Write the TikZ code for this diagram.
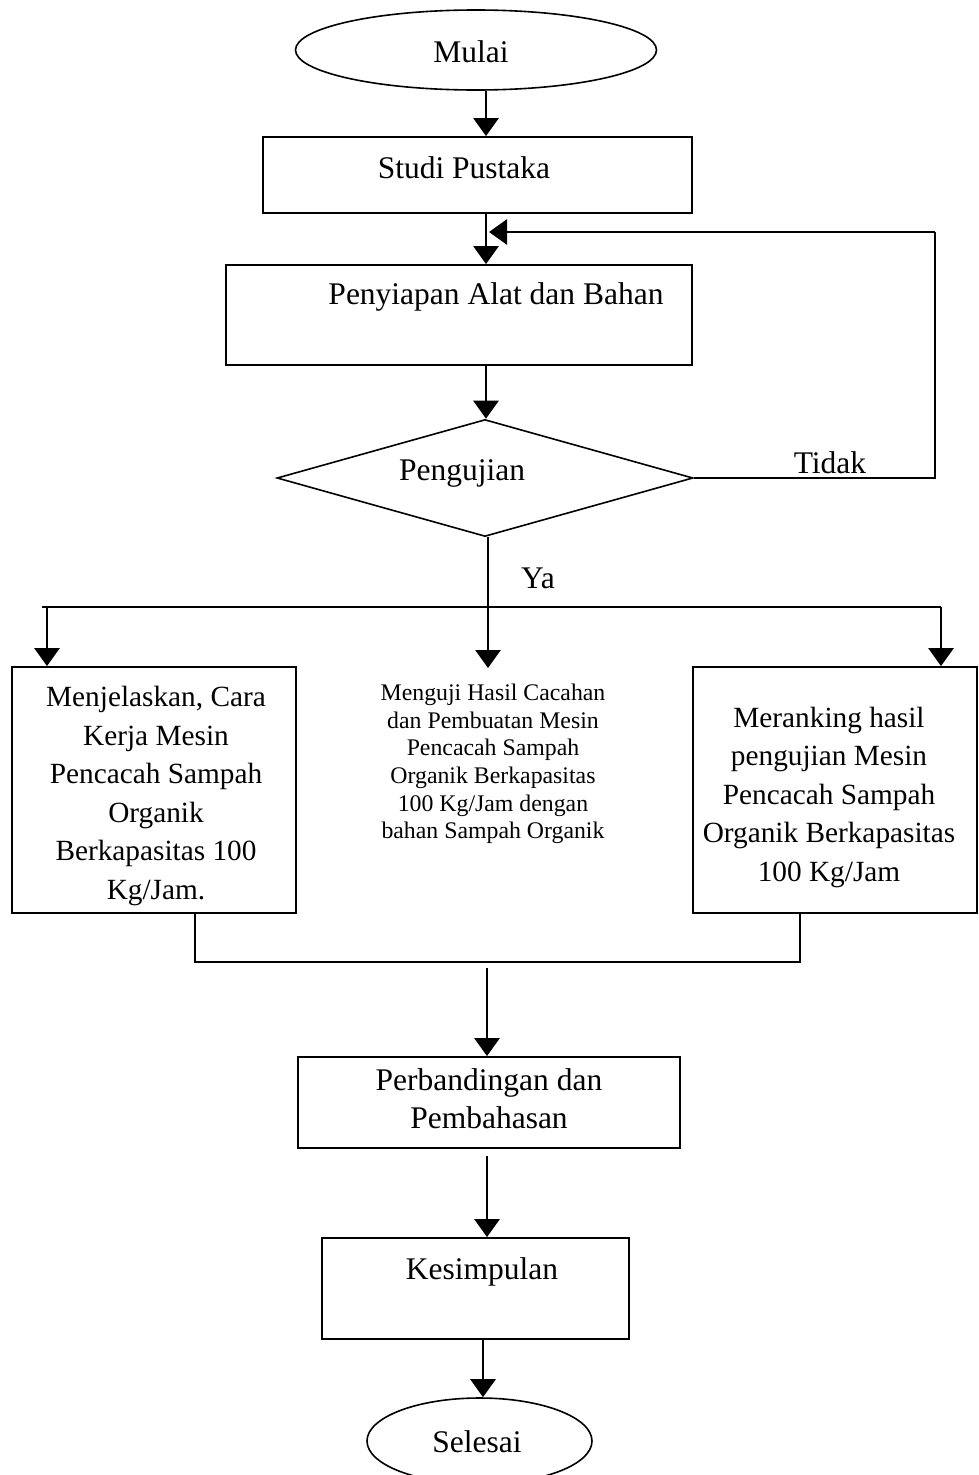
\documentclass[tikz,border=0pt]{standalone}
\usepackage{fontspec}
\setmainfont{Liberation Serif}
\usetikzlibrary{shapes.geometric,arrows.meta}
\begin{document}
\begin{tikzpicture}[x=1pt,y=-1pt,
  box/.style={draw,line width=1.8pt,rectangle,inner sep=0pt},
  oval/.style={draw,line width=1.6pt,ellipse,inner sep=0pt},
  big/.style={font=\fontsize{31.5}{38}\selectfont,inner sep=0pt,align=center},
  mid/.style={font=\fontsize{29.3}{38.5}\selectfont,inner sep=0pt,align=center},
  small/.style={font=\fontsize{23.8}{27.6}\selectfont,inner sep=0pt,align=center},
  arr/.style={line width=2.8pt,-{Triangle[width=25pt,length=18pt]}},
  ln/.style={line width=2.4pt},
  thin/.style={line width=1.6pt}]
\useasboundingbox (0,0) rectangle (978,1475);
\fill[white] (0,0) rectangle (978,1475);

% nodes
\node[oval,minimum width=361pt,minimum height=80pt] (mulai) at (476,50) {};
\node[big] (tmulai) at (471,52) {Mulai};

\node[box,minimum width=429pt,minimum height=76pt] (studi) at (477.5,175) {};
\node[big] (tstudi) at (464,168) {Studi Pustaka};

\node[box,minimum width=466pt,minimum height=100pt] (siap) at (459,315) {};
\node[big] (tsiap) at (496,297) {Penyiapan Alat dan Bahan};

\node[draw,line width=1.6pt,diamond,inner sep=0pt,minimum width=416pt,minimum height=117pt] (uji) at (485,478) {};
\node[big] (tuji) at (462,473) {Pengujian};

\node[box,minimum width=284pt,minimum height=246pt] (kiri) at (154,790) {};
\node[mid] (tkiri) at (156,796) {Menjelaskan, Cara\\Kerja Mesin\\Pencacah Sampah\\Organik\\Berkapasitas 100\\Kg/Jam.};

\node[small] (tengah) at (493,764) {Menguji Hasil Cacahan\\dan Pembuatan Mesin\\Pencacah Sampah\\Organik Berkapasitas\\100 Kg/Jam dengan\\bahan Sampah Organik};

\node[box,minimum width=284pt,minimum height=246pt] (kanan) at (835,790) {};
\node[mid] (tkanan) at (829,797) {Meranking hasil\\pengujian Mesin\\Pencacah Sampah\\Organik Berkapasitas\\100 Kg/Jam};

\node[box,minimum width=382pt,minimum height=91pt] (banding) at (489,1102.5) {};
\node[big] (tbanding) at (489,1099) {Perbandingan dan\\Pembahasan};

\node[box,minimum width=307pt,minimum height=101pt] (simpul) at (475.5,1288.5) {};
\node[big] (tsimpul) at (482,1272) {Kesimpulan};

\node[oval,minimum width=225pt,minimum height=86pt] (selesai) at (479.5,1441) {};
\node[big] (tselesai) at (477,1442) {Selesai};

\node[big] (tidak) at (830,463) {Tidak};
\node[big] (ya) at (538,578) {Ya};

% helper coordinates
\coordinate (cx) at (486,0);
\coordinate (yx) at (488,0);
\coordinate (fbr) at (935,232);
\coordinate (fbe) at (489,232);
\coordinate (hl) at (42,607);
\coordinate (hr) at (941,607);
\coordinate (hm) at (488,607);
\coordinate (la) at (47,607);
\coordinate (ra) at (941,607);
\coordinate (jl) at (195,962);
\coordinate (jr) at (800,962);
\coordinate (jm) at (487,968);
\coordinate (bm) at (487,1156);

% connectors
\draw[arr] (mulai.south -| cx) -- (studi.north -| cx);
\draw[arr] (studi.south -| cx) -- (siap.north -| cx);
\draw[arr] (siap.south -| cx) -- (uji.north -| cx);
\draw[ln] (uji.east) -- (uji.east -| fbr) -- (fbr);
\draw[arr] (fbr) -- (fbe);
\draw[thin] (uji.south -| yx) -- (hm);
\draw[ln] (hl) -- (hr);
\draw[arr] (la) -- (kiri.north -| la);
\draw[arr] (hm) -- (488,668);
\draw[arr] (ra) -- (kanan.north -| ra);
\draw[ln] (kiri.south -| jl) -- (jl) -- (jr) -- (kanan.south -| jr);
\draw[arr] (jm) -- (banding.north -| jm);
\draw[arr] (bm) -- (simpul.north -| bm);
\draw[arr] (simpul.south -| 483,0) -- (selesai.north -| 483,0);
\end{tikzpicture}
\end{document}
